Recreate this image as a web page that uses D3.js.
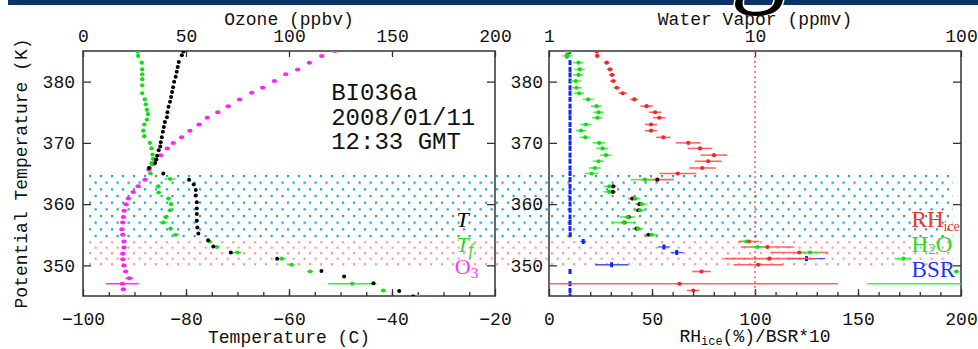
<!DOCTYPE html>
<html>
<head>
<meta charset="utf-8">
<script src="https://cdn.jsdelivr.net/npm/d3@7"></script>
<style>
  body { margin: 0; background: #fff; }
  svg { display: block; }
</style>
</head>
<body>
<svg id="chart" width="978" height="349"></svg>
<script>
'use strict';

// ---- sonde temperature (black), potential temperature in K
const thetaT = [384.9, 384.3, 383.2, 382.4, 381.6, 380.8, 380.0, 379.1, 378.3, 377.5, 376.7, 375.9, 375.0, 374.2,
  373.4, 372.6, 371.8, 370.9, 370.1, 369.4, 368.8, 367.9, 367.3, 366.7, 365.9, 365.0, 364.0, 363.2, 362.3, 361.4,
  360.3, 359.3, 358.4, 357.3, 356.2, 355.2, 354.1, 353.1, 352.1, 351.1, 349.1, 348.2, 347.1, 345.8, 344.9];
const tempC = [-80.5, -80.8, -81.4, -81.6, -81.8, -82.0, -82.3, -82.5, -82.7, -82.9, -83.1, -83.4, -83.6, -83.7,
  -84.1, -84.3, -84.5, -84.7, -84.9, -85.0, -85.3, -85.6, -85.8, -86.0, -87.2, -84.4, -79.4, -78.5, -78.1, -78.1,
  -77.9, -77.9, -77.9, -77.9, -77.8, -77.6, -75.7, -74.7, -71.3, -62.3, -53.7, -49.3, -43.6, -38.6, -35.9];

// ---- frost point (green)
const thetaTf = [384.9, 384.2, 383.1, 382.0, 381.2, 380.4, 379.4, 378.1, 377.1, 376.3, 375.4, 374.7, 373.8, 373.0,
  372.0, 371.1, 370.0, 369.1, 368.1, 367.4, 366.7, 365.9, 365.0, 364.1, 362.9, 361.9, 360.9, 360.0, 359.0, 357.9,
  357.0, 356.0, 355.0, 353.9, 353.0, 352.1, 351.1, 350.1, 349.0, 347.0, 345.9, 344.9];
const frostC = [-89.4, -89.3, -88.6, -88.5, -88.5, -88.5, -88.5, -88.5, -88.0, -87.8, -87.6, -87.4, -87.6, -88.1,
  -88.3, -88.1, -87.0, -86.7, -86.5, -86.4, -86.7, -87.0, -86.9, -83.1, -85.4, -85.3, -83.4, -82.9, -83.1, -83.9,
  -84.4, -83.0, -82.0, -75.5, -74.0, -70.0, -61.4, -59.5, -55.9, -47.7, -41.7, -34.9];
const frostErr = [0.3, 0.3, 0.4, 0.4, 0.4, 0.4, 0.4, 0.4, 0.4, 0.4, 0.4, 0.4, 0.4, 0.4,
  0.4, 0.4, 0.4, 0.4, 0.4, 0.4, 0.4, 0.4, 0.5, 1.1, 0.5, 0.5, 0.5, 0.5, 0.5, 0.6,
  0.8, 0.5, 0.7, 0.6, 0.6, 0.8, 0.8, 0.6, 0.6, 4.7, 0.5, 0.6];

// ---- ozone (magenta), ppbv
const thetaO3 = [385.0, 384.2, 383.1, 382.0, 381.2, 380.1, 379.0, 378.2, 377.1, 376.0, 375.0, 374.1, 373.0, 372.0,
  370.9, 370.0, 369.1, 368.0, 367.3, 366.5, 365.6, 364.0, 362.9, 362.0, 360.9, 360.0, 358.9, 357.9, 357.0, 355.9,
  355.0, 353.9, 352.9, 351.9, 351.0, 350.0, 349.0, 347.9, 347.0, 346.1, 344.9];
const ozone = [122.3, 115.9, 109.9, 104.2, 98.4, 92.9, 87.2, 81.9, 76.0, 70.5, 65.4, 60.3, 56.3, 51.9,
  47.9, 43.8, 40.9, 37.7, 35.4, 33.8, 32.0, 30.1, 26.8, 24.4, 22.0, 20.9, 20.0, 19.6, 19.3, 18.9,
  19.3, 19.9, 19.9, 19.3, 19.3, 19.9, 20.7, 22.5, 19.1, 19.6, 19.6];
const ozoneErr = [0, 0, 0, 0, 0, 0, 0, 0, 0, 0, 0, 0, 0, 0,
  0, 0, 0, 0, 0, 0, 0, 0, 0, 0, 0, 0, 0, 0, 0, 0,
  0, 0, 0, 0, 0, 0, 0, 2, 8, 0, 0];

// ---- right panel: RH ice (red, %), water vapour (green, ppmv)
const thetaW = [384.9, 384.2, 383.1, 382.0, 381.1, 380.1, 379.0, 378.1, 377.1, 376.0, 375.0, 374.1, 373.0, 372.0,
  370.9, 370.0, 369.1, 368.0, 367.0, 365.9, 365.0, 364.0, 362.9, 362.0, 360.9, 360.0, 359.0, 357.9, 357.0, 356.0,
  355.0, 353.9, 353.0, 352.1, 351.1, 350.1, 349.0, 347.0, 345.9, 344.9];
const rhIce = [23.2, 23.4, 28.0, 29.6, 30.6, 31.2, 32.9, 35.8, 41.4, 47.4, 51.5, 53.5, 49.5, 49.5,
  55.5, 67.6, 73.3, 80.1, 77.3, 74.4, 62.5, 52.6, 31.2, 31.0, 40.4, 43.9, 43.4, 38.6, 36.6, 42.5,
  48.3, 97.0, 106.0, 121.5, 107.0, 101.5, 74.0, 63.3, 70.0, 110.5];
const rhErr = [0, 1, 1.5, 1.5, 1.5, 1.5, 1.5, 2, 2, 3, 3, 3, 3, 3,
  3.5, 6, 6, 6.5, 6.5, 6.5, 9, 8, 1.5, 1.5, 2, 2, 2, 2, 2, 2,
  2, 5, 13, 14, 22, 12, 4.5, 77, 3, 13];
const h2o = [1.25, 1.23, 1.39, 1.41, 1.39, 1.35, 1.36, 1.40, 1.55, 1.70, 1.74, 1.72, 1.51, 1.43,
  1.50, 1.75, 1.82, 1.89, 1.74, 1.67, 1.61, 2.92, 1.96, 1.96, 2.62, 2.82, 2.77, 2.41, 2.31, 2.71,
  3.15, 9.1, 10.3, 18.5, 52.5, null, 95, 130, null, null];
const h2oErr = [0.04, 0.07, 0.08, 0.08, 0.08, 0.08, 0.08, 0.08, 0.09, 0.1, 0.1, 0.1, 0.09, 0.08,
  0.09, 0.12, 0.12, 0.12, 0.11, 0.11, 0.12, 0.43, 0.12, 0.12, 0.16, 0.17, 0.17, 0.2, 0.3, 0.17,
  0.22, 0.6, 0.8, 2.2, 5, null, 3, 95, null, null];

// ---- backscatter ratio x10 (blue)
const thetaBsr = thetaW;
const bsr10 = [10.0, 8.7, 10.2, 10.2, 10.2, 10.2, 10.2, 10.2, 10.2, 10.2, 10.2, 10.2, 10.2, 10.2,
  10.2, 10.2, 10.2, 10.2, 10.2, 10.2, 10.2, 10.2, 10.2, 10.2, 10.2, 10.2, 10.2, 10.2, 10.2, 10.2,
  10.3, 16.6, 55.8, 62.0, 125.0, 30.4, 10.2, 10.2, 10.2, 10.2];
const bsrErr = [0.4, 0.4, 0.4, 0.4, 0.4, 0.4, 0.4, 0.4, 0.4, 0.4, 0.4, 0.4, 0.4, 0.4,
  0.4, 0.4, 0.4, 0.4, 0.4, 0.4, 0.4, 0.4, 0.4, 0.4, 0.4, 0.4, 0.4, 0.4, 0.4, 0.4,
  0.4, 1.5, 3, 3, 9, 8, 0.4, 0.4, 0.4, 0.4];

// layers & ticks
const cloudLayer = [354.8, 364.6];
const pinkLayer = [350.2, 353.8];
const tempTicks = [-100, -80, -60, -40, -20];
const tempMinor = d3.range(-95, -20, 5);
const ozoneTicks = [0, 50, 100, 150, 200];
const thetaTicks = [350, 360, 370, 380];
const rhTicks = [0, 50, 100, 150, 200];
const rhMinor = d3.range(10, 200, 10);
const wvTicks = [1, 10, 100];
const stationLines = ['BI036a', '2008/01/11', '12:33 GMT'];

const svg = d3.select('#chart');
const mono = 'Liberation Mono, monospace';
const serif = 'Liberation Serif, serif';

const yTop = 51, yBot = 296;
const y = d3.scaleLinear().domain([345, 385]).range([yBot, yTop]);
const xT = d3.scaleLinear().domain([-100, -20]).range([83, 495]);
const xO3 = d3.scaleLinear().domain([0, 200]).range([83, 495]);
const xRH = d3.scaleLinear().domain([0, 200]).range([549, 961]);
const xWV = d3.scaleLog().domain([1, 100]).range([549, 961]);

const defs = svg.append('defs');

// slide banner remnant at the top (only the feet of the big title show)
svg.append('rect').attr('x', 8).attr('y', 0).attr('width', 970).attr('height', 5).attr('fill', '#0a3467');
svg.append('text').attr('x', 218).attr('y', -7)
  .attr('font-family', serif).attr('font-size', 110)
  .attr('fill', '#000').attr('stroke', '#fff').attr('stroke-width', 3).attr('paint-order', 'stroke')
  .attr('textLength', 750).attr('lengthAdjust', 'spacing')
  .text('Meteorological');

function dotPattern(id, color, w, h, y0) {
  const p = defs.append('pattern').attr('id', id)
    .attr('patternUnits', 'userSpaceOnUse')
    .attr('x', xT.range()[0] + 6).attr('y', y0)
    .attr('width', w).attr('height', h * 2);
  p.append('rect').attr('x', 0).attr('y', 0).attr('width', 2.2).attr('height', 2.2).attr('fill', color);
  p.append('rect').attr('x', w / 2).attr('y', h).attr('width', 2.2).attr('height', 2.2).attr('fill', color);
}
dotPattern('blueDots', '#18a3d6', 11, (y(cloudLayer[0]) - y(cloudLayer[1])) / 9, y(cloudLayer[1]) - 1);
dotPattern('pinkDots', '#ff9a9a', 11, (y(pinkLayer[0]) - y(pinkLayer[1])) / 4, y(pinkLayer[1]) - 1);

const bandX0 = xT.range()[0] + 4, bandX1 = xRH(196);
svg.append('rect').attr('x', bandX0).attr('width', bandX1 - bandX0)
  .attr('y', y(cloudLayer[1]) - 1).attr('height', y(cloudLayer[0]) - y(cloudLayer[1]) + 3)
  .attr('fill', 'url(#blueDots)');
svg.append('rect').attr('x', bandX0).attr('width', bandX1 - bandX0)
  .attr('y', y(pinkLayer[1]) - 1).attr('height', y(pinkLayer[0]) - y(pinkLayer[1]) + 3)
  .attr('fill', 'url(#pinkDots)');

// clip paths
defs.append('clipPath').attr('id', 'clipL').append('rect')
  .attr('x', xT.range()[0]).attr('y', yTop).attr('width', xT.range()[1] - xT.range()[0]).attr('height', yBot - yTop);
defs.append('clipPath').attr('id', 'clipR').append('rect')
  .attr('x', xRH.range()[0]).attr('y', yTop).attr('width', xRH.range()[1] - xRH.range()[0]).attr('height', yBot - yTop);

function styleAxis(g) {
  g.select('.domain').remove();
  g.selectAll('line').attr('stroke', '#333').attr('stroke-width', 1.3);
  g.selectAll('text').attr('font-family', mono).attr('font-size', 18).attr('fill', '#111');
}

function drawAxes(xBottom, bottomTicks, bottomMinor, xTopScale, topTicks, labelPad) {
  const x0 = xBottom.range()[0], x1 = xBottom.range()[1];
  svg.append('g').attr('transform', `translate(0,${yBot})`)
    .call(d3.axisBottom(xBottom).tickValues(bottomMinor).tickSize(-4).tickFormat(''))
    .call(styleAxis);
  svg.append('g').attr('transform', `translate(0,${yBot})`)
    .call(d3.axisBottom(xBottom).tickValues(bottomTicks).tickSize(-7).tickPadding(16))
    .call(styleAxis);
  svg.append('g').attr('transform', `translate(0,${yTop})`)
    .call(d3.axisTop(xTopScale).tickValues(topTicks).tickSize(-6).tickPadding(9).tickFormat(d3.format('d')))
    .call(styleAxis);
  svg.append('g').attr('transform', `translate(${x0},0)`)
    .call(d3.axisLeft(y).tickValues(thetaTicks).tickSize(-8).tickPadding(labelPad))
    .call(styleAxis);
  svg.append('g').attr('transform', `translate(${x1},0)`)
    .call(d3.axisRight(y).tickValues(thetaTicks).tickSize(-8).tickFormat(''))
    .call(styleAxis);
  svg.append('rect').attr('x', x0).attr('y', yTop).attr('width', x1 - x0).attr('height', yBot - yTop)
    .attr('fill', 'none').attr('stroke', '#333').attr('stroke-width', 1.5);
}

drawAxes(xT, tempTicks, tempMinor, xO3, ozoneTicks, 8);
drawAxes(xRH, rhTicks, rhMinor, xWV, wvTicks, 6);

// axis titles
function title(x, yy, txt, sub, rest) {
  const t = svg.append('text').attr('x', x).attr('y', yy).attr('text-anchor', 'middle')
    .attr('font-family', mono).attr('font-size', 18).attr('fill', '#111').text(txt);
  if (sub) {
    t.append('tspan').attr('font-size', 12).attr('dy', 3).text(sub);
    t.append('tspan').attr('dy', -3).text(rest);
  }
}
title(d3.mean(xO3.range()), 25, 'Ozone (ppbv)');
title(d3.mean(xWV.range()), 25, 'Water Vapor (ppmv)');
title(d3.mean(xT.range()), 343, 'Temperature (C)');
title(d3.mean(xRH.range()), 342, 'RH', 'ice', '(%)/BSR*10');
svg.append('text')
  .attr('transform', `translate(21,${(yTop + yBot) / 2}) rotate(-90)`)
  .attr('text-anchor', 'middle').attr('dy', '0.35em')
  .attr('font-family', mono).attr('font-size', 18).attr('fill', '#111')
  .text('Potential Temperature (K)');

// station annotation
svg.append('g').selectAll('text').data(stationLines).join('text')
  .attr('x', xO3(120.5)).attr('y', (d, i) => y(377.0) + i * 24.5)
  .attr('font-family', mono).attr('font-size', 24).attr('fill', '#111')
  .text(d => d);

// ---------------- left panel data
const L = svg.append('g').attr('clip-path', 'url(#clipL)');

const frostData = thetaTf.map((t, i) => ({ theta: t, v: frostC[i], e: frostErr[i] }));
const ozoneData = thetaO3.map((t, i) => ({ theta: t, v: ozone[i], e: ozoneErr[i] }));
const tempData = thetaT.map((t, i) => ({ theta: t, v: tempC[i] }));

L.selectAll('line.o3err').data(ozoneData.filter(d => d.e > 0)).join('line')
  .attr('x1', d => xO3(d.v - d.e)).attr('x2', d => xO3(d.v + d.e))
  .attr('y1', d => y(d.theta)).attr('y2', d => y(d.theta))
  .attr('stroke', '#ff33ff').attr('stroke-width', 1.3);
L.selectAll('ellipse.o3').data(ozoneData).join('ellipse')
  .attr('cx', d => xO3(d.v)).attr('cy', d => y(d.theta))
  .attr('rx', 2.7).attr('ry', 2).attr('fill', '#ff22ff');

L.selectAll('line.tferr').data(frostData).join('line')
  .attr('x1', d => xT(d.v - d.e)).attr('x2', d => xT(d.v + d.e))
  .attr('y1', d => y(d.theta)).attr('y2', d => y(d.theta))
  .attr('stroke', '#33ee33').attr('stroke-width', 1.3);
L.selectAll('circle.tf').data(frostData).join('circle')
  .attr('cx', d => xT(d.v)).attr('cy', d => y(d.theta))
  .attr('r', 2.1).attr('fill', '#11dd11');

L.selectAll('circle.t').data(tempData).join('circle')
  .attr('cx', d => xT(d.v)).attr('cy', d => y(d.theta))
  .attr('r', 2).attr('fill', '#000');

// left legend
const legL = svg.append('g').attr('font-family', serif).attr('font-size', 22).attr('font-style', 'italic');
legL.append('text').attr('x', xT(-27.5)).attr('y', y(356.3)).attr('fill', '#000').text('T');
const tf = legL.append('text').attr('x', xT(-27.5)).attr('y', y(352.2)).attr('fill', '#22dd22').text('T');
tf.append('tspan').attr('font-size', 16).attr('dy', 3).text('f');
const o3 = legL.append('text').attr('x', xT(-27.8)).attr('y', y(348.6)).attr('fill', '#ff33ff')
  .attr('font-style', 'normal').text('O');
o3.append('tspan').attr('font-size', 15).attr('dy', 4).text('3');

// ---------------- right panel data
const R = svg.append('g').attr('clip-path', 'url(#clipR)');

R.append('line').attr('x1', xRH(100)).attr('x2', xRH(100)).attr('y1', yTop).attr('y2', yBot)
  .attr('stroke', '#ff4444').attr('stroke-width', 1.3).attr('stroke-dasharray', '2,3');

const inCloud = t => t >= cloudLayer[0] && t <= cloudLayer[1];
const rhData = thetaW.map((t, i) => ({ theta: t, v: rhIce[i], e: rhErr[i] }));
const wvData = thetaW.map((t, i) => ({ theta: t, v: h2o[i], e: h2oErr[i] })).filter(d => d.v !== null);
const bsrData = thetaBsr.map((t, i) => ({ theta: t, v: bsr10[i], e: bsrErr[i] }));

R.selectAll('line.bsrerr').data(bsrData).join('line')
  .attr('x1', d => xRH(d.v - d.e)).attr('x2', d => xRH(d.v + d.e))
  .attr('y1', d => y(d.theta)).attr('y2', d => y(d.theta))
  .attr('stroke', '#4455ff').attr('stroke-width', 1.3);
R.selectAll('rect.bsr').data(bsrData).join('rect')
  .attr('x', d => xRH(d.v) - 1.5).attr('y', d => y(d.theta) - 2.5)
  .attr('width', 3).attr('height', 5).attr('fill', '#1122ff');

R.selectAll('line.rherr').data(rhData).join('line')
  .attr('x1', d => xRH(d.v - d.e)).attr('x2', d => xRH(d.v + d.e))
  .attr('y1', d => y(d.theta)).attr('y2', d => y(d.theta))
  .attr('stroke', '#ff4a4a').attr('stroke-opacity', 0.85).attr('stroke-width', 1.6);
R.selectAll('line.wverr').data(wvData).join('line')
  .attr('x1', d => xWV(Math.max(d.v - d.e, 0.5))).attr('x2', d => xWV(d.v + d.e))
  .attr('y1', d => y(d.theta)).attr('y2', d => y(d.theta))
  .attr('stroke', '#33ee33').attr('stroke-opacity', 0.9).attr('stroke-width', 1.6);
R.selectAll('circle.rh').data(rhData).join('circle')
  .attr('cx', d => xRH(d.v)).attr('cy', d => y(d.theta))
  .attr('r', 2.1).attr('fill', d => inCloud(d.theta) ? '#440000' : '#ff2020');
R.selectAll('circle.wv').data(wvData).join('circle')
  .attr('cx', d => xWV(d.v)).attr('cy', d => y(d.theta))
  .attr('r', 2.1).attr('fill', '#11dd11');

// right legend
const legR = svg.append('g').attr('font-family', serif).attr('font-size', 23);
const rhL = legR.append('text').attr('x', xRH(176)).attr('y', y(356.3)).attr('fill', '#ff2a2a').text('RH');
rhL.append('tspan').attr('font-size', 14).attr('dy', 4).text('ice');
const h2oL = legR.append('text').attr('x', xRH(176)).attr('y', y(352.2)).attr('fill', '#22dd22').text('H');
h2oL.append('tspan').attr('font-size', 15).attr('dy', 2).text('2');
h2oL.append('tspan').attr('dy', -2).text('O');
legR.append('text').attr('x', xRH(176)).attr('y', y(348.1)).attr('fill', '#2233ff').text('BSR');
</script>
</body>
</html>
